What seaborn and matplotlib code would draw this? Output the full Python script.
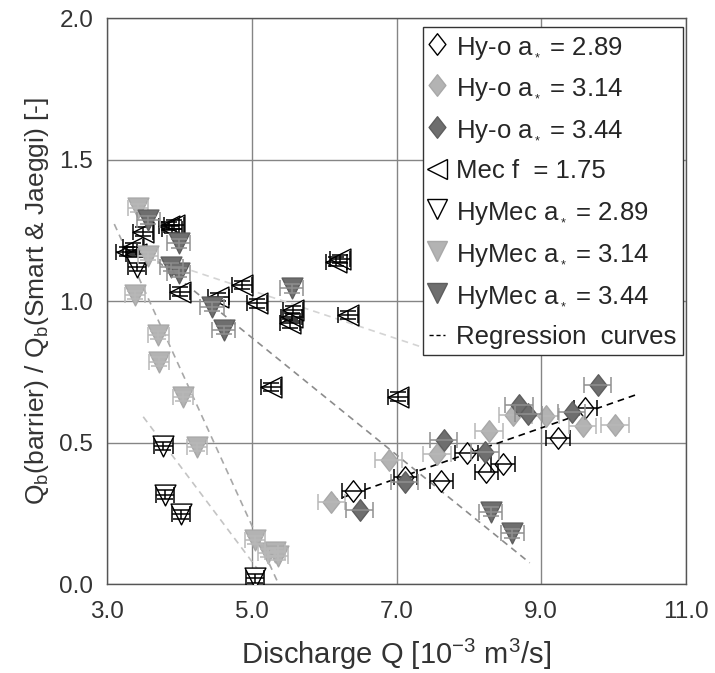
import numpy as np
import pandas as pd
import seaborn as sns
import matplotlib.pyplot as plt
from matplotlib.lines import Line2D
from matplotlib.path import Path

# Hy-o runs (diamonds): discharge Q [1e-3 m3/s] and Qb ratio [-]
hyo289_q = [6.40, 7.12, 7.62, 7.97, 8.24, 8.47, 9.23, 9.61]
hyo289_r = [0.330, 0.379, 0.365, 0.462, 0.397, 0.424, 0.515, 0.621]
hyo314_q = [6.10, 6.89, 7.56, 8.28, 8.61, 9.06, 9.57, 10.02]
hyo314_r = [0.291, 0.438, 0.460, 0.542, 0.597, 0.594, 0.558, 0.562]
hyo344_q = [6.49, 7.11, 7.65, 8.22, 8.69, 8.82, 9.42, 9.78]
hyo344_r = [0.261, 0.362, 0.509, 0.468, 0.633, 0.600, 0.609, 0.703]

# Mec runs (left triangles)
mec_q = [3.27, 3.36, 3.40, 3.50, 3.86, 3.90, 3.93, 4.01, 4.54, 4.86,
         5.07, 5.27, 5.53, 5.55, 5.57, 6.17, 6.22, 6.33, 7.02]
mec_r = [1.175, 1.190, 1.165, 1.245, 1.265, 1.255, 1.270, 1.033, 1.015, 1.056,
         0.992, 0.697, 0.921, 0.944, 0.968, 1.139, 1.148, 0.950, 0.662]

# HyMec runs (down triangles)
hymec289_q = [3.42, 3.78, 3.80, 4.02, 5.05]
hymec289_r = [1.120, 0.488, 0.316, 0.246, 0.020]
hymec314_q = [3.43, 3.39, 3.57, 3.71, 3.72, 4.05, 4.24, 5.04, 5.22, 5.32, 5.36]
hymec314_r = [1.328, 1.021, 1.160, 0.880, 0.786, 0.662, 0.485, 0.155, 0.110, 0.114, 0.100]
hymec344_q = [3.57, 3.89, 3.99, 3.99, 4.45, 4.61, 5.55, 8.30, 8.60]
hymec344_r = [1.286, 1.120, 1.204, 1.100, 0.980, 0.897, 1.045, 0.256, 0.179]

# error on discharge per series
q_err = [0.16, 0.19, 0.19, 0.14, 0.125, 0.14, 0.16]
r_err_tri = 0.015

# regression curves: end points
reg_q = [[6.10, 10.30], [3.40, 7.40], [3.50, 5.10], [3.10, 5.37], [3.45, 8.84]]
reg_r = [[0.292, 0.668], [1.173, 0.833], [0.591, 0.046], [1.272, 0.0], [1.192, 0.075]]
reg_col = ['black', '#d4d4d4', '#c4c4c4', '#a8a8a8', '#8c8c8c']

labels = ['Hy-o a$_{_*}$ = 2.89', 'Hy-o a$_{_*}$ = 3.14', 'Hy-o a$_{_*}$ = 3.44',
          'Mec f  = 1.75', 'HyMec a$_{_*}$ = 2.89', 'HyMec a$_{_*}$ = 3.14',
          'HyMec a$_{_*}$ = 3.44', 'Regression  curves']

sns.set_theme(style='white')
plt.rcParams['font.family'] = ['Liberation Sans', 'DejaVu Sans']
plt.rcParams['mathtext.fontset'] = 'custom'
plt.rcParams['mathtext.rm'] = 'Liberation Sans'
plt.rcParams['mathtext.it'] = 'Liberation Sans:italic'

# matlab-like diamond (a bit wider than matplotlib's thin diamond)
diamond = Path([(0, 1), (0.78, 0), (0, -1), (-0.78, 0), (0, 1)],
               [Path.MOVETO, Path.LINETO, Path.LINETO, Path.LINETO, Path.CLOSEPOLY])

fig = plt.figure(figsize=(7.15, 6.73), dpi=100)
ax = fig.add_axes([0.1497, 0.1322, 0.8098, 0.8410])

white, light, dark = 'white', '#b3b3b3', '#6e6e6e'
series = [
    (hyo289_q, hyo289_r, diamond, 15.5, white, 'black', 'black'),
    (hyo314_q, hyo314_r, diamond, 15.5, light, '#a8a8a8', '#b8b8b8'),
    (hyo344_q, hyo344_r, diamond, 15.5, dark, '#5e5e5e', '#8f8f8f'),
    (mec_q, mec_r, '<', 15, white, 'black', 'black'),
    (hymec289_q, hymec289_r, 'v', 15, white, 'black', 'black'),
    (hymec314_q, hymec314_r, 'v', 15, light, '#a8a8a8', '#b8b8b8'),
    (hymec344_q, hymec344_r, 'v', 15, dark, '#5e5e5e', '#8f8f8f'),
]

# regression curves first (under the markers)
for q, r, c in zip(reg_q, reg_r, reg_col):
    sns.lineplot(x=q, y=r, ax=ax, color=c, linestyle=(0, (4, 3)), lw=1.2, zorder=2)

for i, (q, r, m, ms, fc, ec, erc) in enumerate(series):
    yerr = None if m is diamond else r_err_tri
    sns.scatterplot(x=q, y=r, ax=ax, marker=m, s=ms ** 2, color=fc, edgecolor=ec,
                    linewidth=1.0, zorder=3 + i * 0.1, legend=False)
    # error bars are drawn over the symbols, as in the original figure
    ax.errorbar(q, r, xerr=q_err[i], yerr=yerr, fmt='none', ecolor=erc,
                elinewidth=1.1, capsize=5.5, capthick=1.1, zorder=3.05 + i * 0.1)

ax.set_xlim(3, 11)
ax.set_ylim(0, 2)
ax.set_xticks([3, 5, 7, 9, 11])
ax.set_xticklabels(['3.0', '5.0', '7.0', '9.0', '11.0'])
ax.set_yticks([0, 0.5, 1.0, 1.5, 2.0])
ax.set_yticklabels(['0.0', '0.5', '1.0', '1.5', '2.0'])
ax.tick_params(length=0, labelsize=17.5, colors='#333333')
ax.tick_params(axis='x', pad=12.5)
ax.tick_params(axis='y', pad=10)
ax.grid(True, color='#858585', lw=1.0)
ax.set_axisbelow(True)
for sp in ax.spines.values():
    sp.set_color('#555555')
    sp.set_linewidth(1.0)

ax.set_xlabel('Discharge Q [10$^{-3}$ m$^3$/s]', fontsize=21, color='#333333', labelpad=10)
ax.set_ylabel('Q$_\\mathrm{b}$(barrier) / Q$_\\mathrm{b}$(Smart & Jaeggi) [-]', fontsize=19,
              color='#333333', labelpad=6)

handles = []
for (q, r, m, ms, fc, ec, erc) in series:
    handles.append(Line2D([], [], marker=m, ls='none', ms=ms,
                          mfc=fc, mec=ec, mew=1.0))
handles.append(Line2D([], [], color='black', ls=(0, (3, 2)), lw=1.0))
leg = ax.legend(handles, labels, loc='upper right', bbox_to_anchor=(0.995, 0.984),
                borderaxespad=0, fontsize=18.5, frameon=True, fancybox=False,
                framealpha=1, edgecolor='#333333', handlelength=0.6,
                handletextpad=0.45, borderpad=0.25, labelspacing=0.62)
leg.get_frame().set_linewidth(1.0)

fig.savefig('out.png', dpi=100)
